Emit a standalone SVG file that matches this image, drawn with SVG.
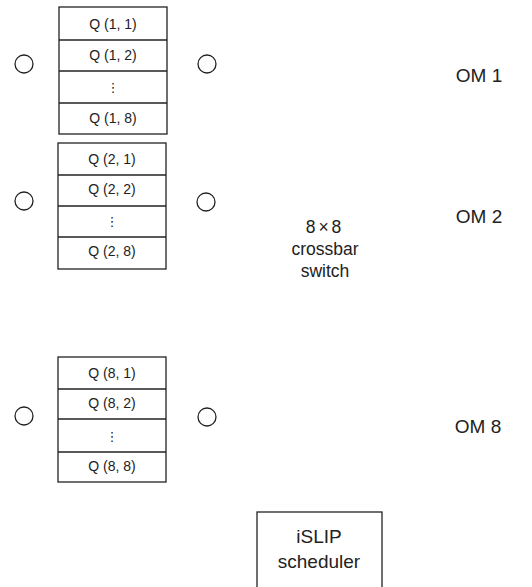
<svg xmlns="http://www.w3.org/2000/svg" width="532" height="587" viewBox="0 0 532 587">
<style>
.box{fill:none;stroke:#222;stroke-width:1.3}
.port{fill:none;stroke:#222;stroke-width:1.3}
.q{font-family:"Liberation Sans",Arial,sans-serif;font-size:14px;fill:#222;text-anchor:middle}
.dots{font-family:"DejaVu Sans",sans-serif;font-size:13px;fill:#222;text-anchor:middle}
.om{font-family:"Liberation Sans",Arial,sans-serif;font-size:19px;fill:#222;text-anchor:middle}
.lbl{font-family:"Liberation Sans",Arial,sans-serif;font-size:17.5px;fill:#222;text-anchor:middle}
.sch{font-family:"Liberation Sans",Arial,sans-serif;font-size:19px;fill:#222;text-anchor:middle}
</style>
<rect width="532" height="587" fill="#fff"/>
<g id="connectors"></g>
<g id="voq1">
<rect class="box" x="59" y="7" width="108" height="127"/>
<line class="box" x1="59" y1="40" x2="167" y2="40"/>
<line class="box" x1="59" y1="71" x2="167" y2="71"/>
<line class="box" x1="59" y1="103" x2="167" y2="103"/>
<text class="q" x="113" y="29">Q (1, 1)</text>
<text class="q" x="113" y="60">Q (1, 2)</text>
<text class="dots" x="113" y="92">⋮</text>
<text class="q" x="113" y="123">Q (1, 8)</text>
</g>
<g id="voq2">
<rect class="box" x="58" y="143" width="108" height="126"/>
<line class="box" x1="58" y1="175" x2="166" y2="175"/>
<line class="box" x1="58" y1="206" x2="166" y2="206"/>
<line class="box" x1="58" y1="237" x2="166" y2="237"/>
<text class="q" x="112" y="164">Q (2, 1)</text>
<text class="q" x="112" y="194">Q (2, 2)</text>
<text class="dots" x="112" y="226">⋮</text>
<text class="q" x="112" y="256">Q (2, 8)</text>
</g>
<g id="voq8">
<rect class="box" x="58" y="357" width="108" height="125"/>
<line class="box" x1="58" y1="389" x2="166" y2="389"/>
<line class="box" x1="58" y1="419" x2="166" y2="419"/>
<line class="box" x1="58" y1="452" x2="166" y2="452"/>
<text class="q" x="112" y="378">Q (8, 1)</text>
<text class="q" x="112" y="408">Q (8, 2)</text>
<text class="dots" x="112" y="441">⋮</text>
<text class="q" x="112" y="471">Q (8, 8)</text>
</g>
<g id="ports">
<circle class="port" cx="24" cy="64" r="9"/>
<circle class="port" cx="207" cy="64" r="9"/>
<circle class="port" cx="24" cy="201" r="9"/>
<circle class="port" cx="206" cy="202" r="9"/>
<circle class="port" cx="24" cy="416" r="9"/>
<circle class="port" cx="207" cy="417" r="9"/>
</g>
<g id="crossbar">
<text class="lbl" x="325" y="233" letter-spacing="3">8×8</text>
<text class="lbl" x="325" y="255">crossbar</text>
<text class="lbl" x="325" y="277">switch</text>
</g>
<g id="om1"><text class="om" x="479" y="82">OM 1</text></g>
<g id="om2"><text class="om" x="479" y="223">OM 2</text></g>
<g id="om8"><text class="om" x="478" y="433">OM 8</text></g>
<g id="islip">
<rect class="box" x="257" y="512" width="125" height="100"/>
<text class="sch" x="319" y="543">iSLIP</text>
<text class="sch" x="319" y="568">scheduler</text>
</g>
</svg>
